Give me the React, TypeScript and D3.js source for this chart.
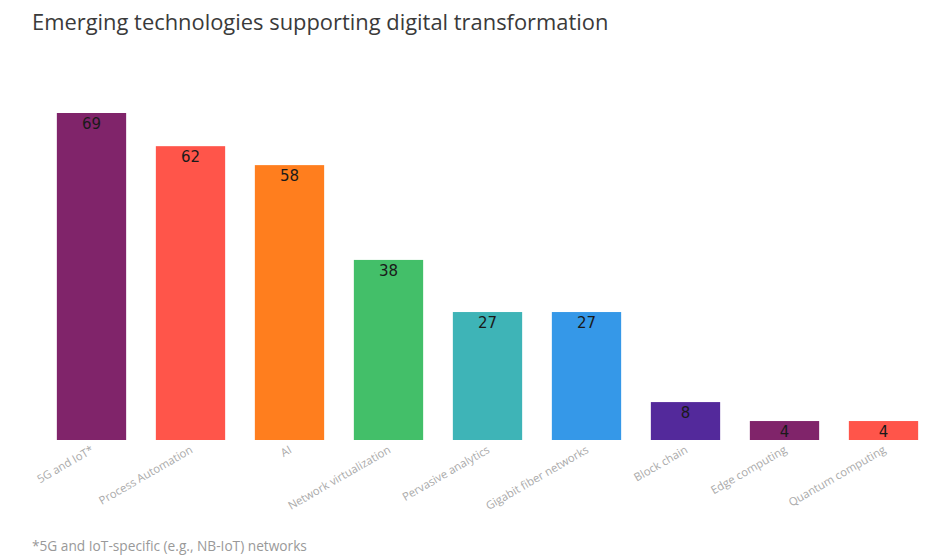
import React from "react";
import * as d3 from "d3";

const categories = ["5G and IoT*", "Process Automation", "AI", "Network virtualization", "Pervasive analytics", "Gigabit fiber networks", "Block chain", "Edge computing", "Quantum computing"];
const values = [69, 62, 58, 38, 27, 27, 8, 4, 4];
const colors = ["#80246a", "#ff554a", "#ff7e1e", "#43bf69", "#3eb4b7", "#3598e8", "#53299b", "#80246a", "#ff554a"];
const title = "Emerging technologies supporting digital transformation";
const footnote = "*5G and IoT-specific (e.g., NB-IoT) networks";

export default function App() {
  const W = 947, H = 560;
  const x = d3.scaleBand<string>().domain(categories).range([42, 933]).paddingInner(0.3).paddingOuter(0.15);
  const y = d3.scaleLinear().domain([0, 69]).range([440, 113]);
  return (
    <svg width={W} height={H} style={{ position: "absolute", left: 0, top: 0, background: "#fff" }}>
      <text x={32} y={30} fontFamily="Open Sans" fontSize={21.9} fill="#3a3a3a">{title}</text>
      {categories.map((c, i) => {
        const bx = x(c)!;
        const cx = bx + x.bandwidth() / 2;
        return (
          <g key={c}>
            <rect x={bx} y={y(values[i])} width={x.bandwidth()} height={y(0) - y(values[i])} fill={colors[i]} />
            <text x={cx} y={y(values[i]) + 16} textAnchor="middle" fontFamily="DejaVu Sans" fontSize={15} fill="#1a1a1a">{values[i]}</text>
            <text transform={`translate(${cx + 3},${452}) rotate(-30)`} textAnchor="end" fontFamily="Open Sans" fontSize={11.3} fill="#aaaaaa">{c}</text>
          </g>
        );
      })}
      <text x={32} y={551} fontFamily="Open Sans" fontSize={13.7} fill="#999">{footnote}</text>
    </svg>
  );
}
